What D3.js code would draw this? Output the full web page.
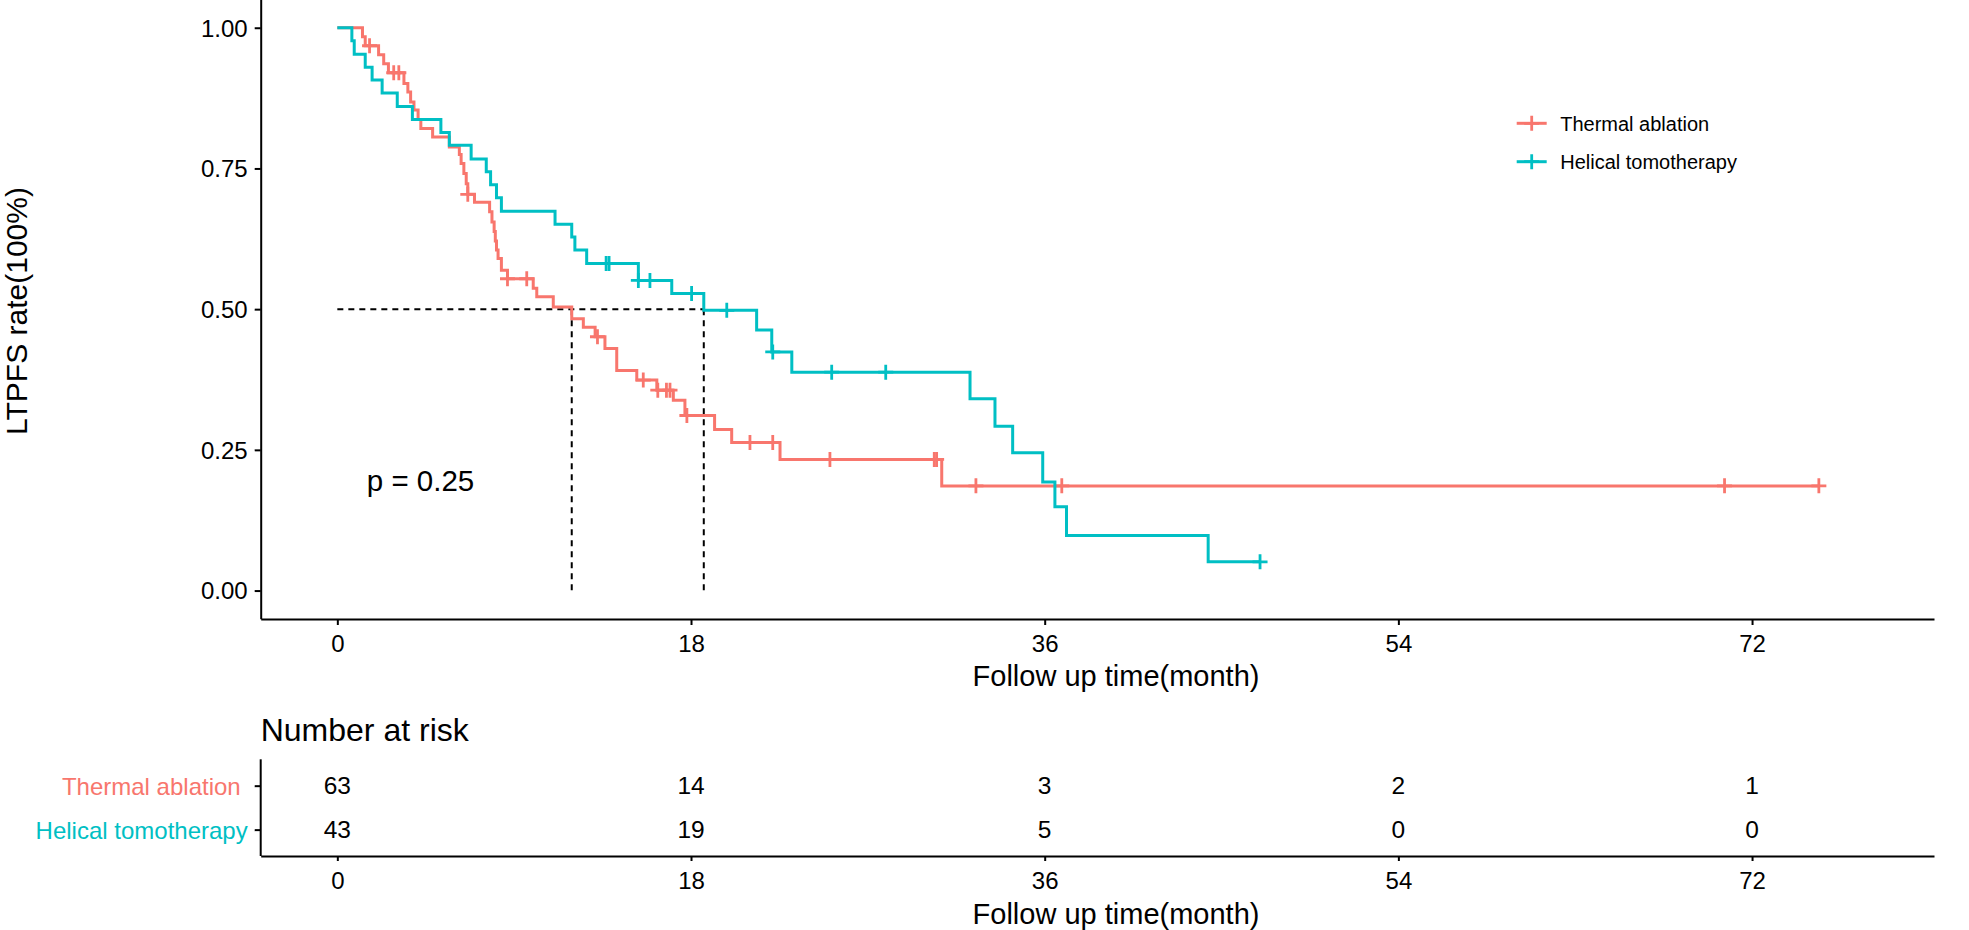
<!DOCTYPE html>
<html>
<head>
<meta charset="utf-8">
<script src="https://cdn.jsdelivr.net/npm/d3@7"></script>
<style>
  body { margin: 0; background: #fff; }
  text { font-family: "Liberation Sans", Arial, sans-serif; }
</style>
</head>
<body>
<script>
const groups = ["Thermal ablation", "Helical tomotherapy"];
const colors = ["#F8766D", "#00BFC4"];

// step points [month, survival]
const thermalSteps = [[0,1],[1.28,0.984],[1.42,0.968],[2.1,0.952],[2.36,0.936],[2.6,0.920],
  [3.39,0.901],[3.59,0.886],[3.73,0.868],[3.9,0.854],[4.11,0.837],[4.25,0.821],[4.85,0.806],
  [5.7,0.788],[6.21,0.775],[6.3,0.759],[6.44,0.741],[6.56,0.723],[6.64,0.704],[6.98,0.690],
  [7.75,0.673],[7.87,0.655],[7.98,0.638],[8.04,0.621],[8.1,0.605],[8.18,0.590],[8.35,0.569],
  [8.66,0.554],[9.97,0.537],[10.15,0.522],[10.99,0.504],[11.93,0.483],[12.52,0.468],
  [13.12,0.451],[13.62,0.430],[14.22,0.391],[15.24,0.374],[16.26,0.356],[17.1,0.338],
  [17.69,0.311],[19.2,0.286],[20.07,0.263],[22.53,0.233],[30.76,0.186],[75.4,0.186]];
const thermalCensor = [[1.64,0.968],[2.87,0.920],[3.13,0.920],[6.64,0.704],[8.66,0.554],
  [9.64,0.554],[13.24,0.451],[15.57,0.374],[16.31,0.356],[16.75,0.356],[16.93,0.356],
  [17.79,0.311],[21.0,0.263],[22.16,0.263],[25.07,0.233],[30.38,0.233],[30.5,0.233],
  [32.5,0.186],[36.87,0.186],[70.6,0.186],[75.4,0.186]];

const helicalSteps = [[0,1],[0.74,0.977],[0.86,0.953],[1.42,0.930],[1.77,0.907],[2.28,0.884],
  [3.05,0.860],[3.82,0.837],[5.27,0.814],[5.7,0.791],[6.81,0.767],[7.58,0.744],[7.8,0.721],
  [8.1,0.698],[8.35,0.674],[11.08,0.651],[11.93,0.628],[12.09,0.605],[12.69,0.581],
  [15.32,0.551],[17.02,0.528],[18.65,0.498],[21.34,0.463],[22.11,0.424],[23.13,0.388],
  [32.2,0.341],[33.47,0.292],[34.37,0.245],[35.9,0.193],[36.52,0.149],[37.11,0.098],
  [44.32,0.051],[46.96,0.051]];
const helicalCensor = [[13.68,0.581],[13.83,0.581],[15.32,0.551],[15.91,0.551],[18.03,0.528],
  [19.82,0.498],[22.16,0.424],[25.16,0.388],[27.91,0.388],[46.96,0.051]];

const medians = [11.93, 18.65];
const pText = "p = 0.25";

const xTicks = [0, 18, 36, 54, 72];
const yTicks = [0, 0.25, 0.5, 0.75, 1];
const riskThermal = [63, 14, 3, 2, 1];
const riskHelical = [43, 19, 5, 0, 0];

const W = 1969, H = 930;
const svg = d3.select("body").append("svg")
  .attr("width", W).attr("height", H);

const x = d3.scaleLinear().domain([-3.9, 81.26]).range([260.7, 1934]);
const y = d3.scaleLinear().domain([-0.05, 1.05]).range([618.7, -0.4]);

const font = 24;

// main axes
const gx = svg.append("g").attr("transform", "translate(0,619)")
  .call(d3.axisBottom(x).tickValues(xTicks).tickSize(6).tickSizeOuter(0));
gx.selectAll("text").attr("y", 32.5).attr("dy", null);

const gy = svg.append("g").attr("transform", "translate(260.7,0)")
  .call(d3.axisLeft(y).tickValues(yTicks).tickFormat(d3.format(".2f")).tickSize(6).tickSizeOuter(0));
gy.selectAll("text").attr("x", -13).attr("dy", "0.35em");

svg.selectAll(".domain, .tick line").attr("stroke", "#000").attr("stroke-width", 2);
svg.selectAll(".tick text").attr("font-size", font).attr("fill", "#000")
  .style("font-family", "'Liberation Sans', Arial, sans-serif");

// median lines
const dash = svg.append("g").attr("stroke", "#000").attr("stroke-width", 2)
  .attr("stroke-dasharray", "6,5").attr("fill", "none");
dash.append("line").attr("x1", x(0)).attr("x2", x(medians[1]))
  .attr("y1", y(0.5)).attr("y2", y(0.5));
medians.forEach(m => {
  dash.append("line").attr("x1", x(m)).attr("x2", x(m))
    .attr("y1", y(0.5)).attr("y2", y(0));
});

// curves
const line = d3.line().x(d => x(d[0])).y(d => y(d[1])).curve(d3.curveStepAfter);
const plus = "M-7.5,0H7.5M0,-7.5V7.5";

[[thermalSteps, thermalCensor], [helicalSteps, helicalCensor]].forEach(([steps, cens], i) => {
  svg.append("path").datum(steps)
    .attr("d", line).attr("fill", "none")
    .attr("stroke", colors[i]).attr("stroke-width", 3);
  svg.append("g").selectAll("path").data(cens).enter().append("path")
    .attr("d", plus)
    .attr("transform", d => `translate(${x(d[0])},${y(d[1])})`)
    .attr("stroke", colors[i]).attr("stroke-width", 2.8).attr("fill", "none");
});

// p value
svg.append("text").attr("x", x(1.5)).attr("y", y(0.195)).attr("dy", "0.35em")
  .attr("font-size", 29.5).text(pText);

// legend
const leg = svg.append("g").attr("transform", "translate(1516.7,123.3)");
groups.forEach((g, i) => {
  const row = leg.append("g").attr("transform", `translate(0,${i * 38.4})`);
  row.append("line").attr("x1", 0).attr("x2", 30)
    .attr("stroke", colors[i]).attr("stroke-width", 3);
  row.append("path").attr("d", plus).attr("transform", "translate(15,0)")
    .attr("stroke", colors[i]).attr("stroke-width", 2.8);
  row.append("text").attr("x", 43.5).attr("dy", "0.36em")
    .attr("font-size", 20).text(g);
});

// axis titles
svg.append("text").attr("x", 1116).attr("y", 686).attr("text-anchor", "middle")
  .attr("font-size", 29).text("Follow up time(month)");
svg.append("text").attr("transform", "translate(27,311) rotate(-90)")
  .attr("text-anchor", "middle").attr("font-size", 30).text("LTPFS rate(100%)");

// number at risk table
svg.append("text").attr("x", 260.7).attr("y", 740.7)
  .attr("font-size", 32).text("Number at risk");

const yr = d3.scalePoint().domain(groups).range([759.3, 856]).padding(0.6);

const tx = svg.append("g").attr("transform", "translate(0,856)")
  .call(d3.axisBottom(x).tickValues(xTicks).tickSize(5).tickSizeOuter(0));
tx.selectAll("text").attr("y", 33).attr("dy", null);

const ty = svg.append("g").attr("transform", "translate(260.7,0)")
  .call(d3.axisLeft(yr).tickSize(6).tickSizeOuter(0));
ty.select(".domain").attr("d", "M0,759.3V856");
ty.selectAll("text").attr("x", -13).attr("dy", "0.35em")
  .attr("fill", (d, i) => colors[i])
  .attr("transform", (d, i) => i === 0 ? "translate(-7,0)" : null);

svg.selectAll(".domain, .tick line").attr("stroke", "#000").attr("stroke-width", 2);
tx.selectAll("text").attr("fill", "#000");
svg.selectAll(".tick text").attr("font-size", font)
  .style("font-family", "'Liberation Sans', Arial, sans-serif");

[riskThermal, riskHelical].forEach((vals, i) => {
  svg.append("g").selectAll("text").data(vals).enter().append("text")
    .attr("x", (d, j) => x(xTicks[j])).attr("y", yr(groups[i])).attr("dy", "0.35em")
    .attr("text-anchor", "middle").attr("font-size", 24.5).text(d => d);
});

svg.append("text").attr("x", 1116).attr("y", 924).attr("text-anchor", "middle")
  .attr("font-size", 29).text("Follow up time(month)");
</script>
</body>
</html>
